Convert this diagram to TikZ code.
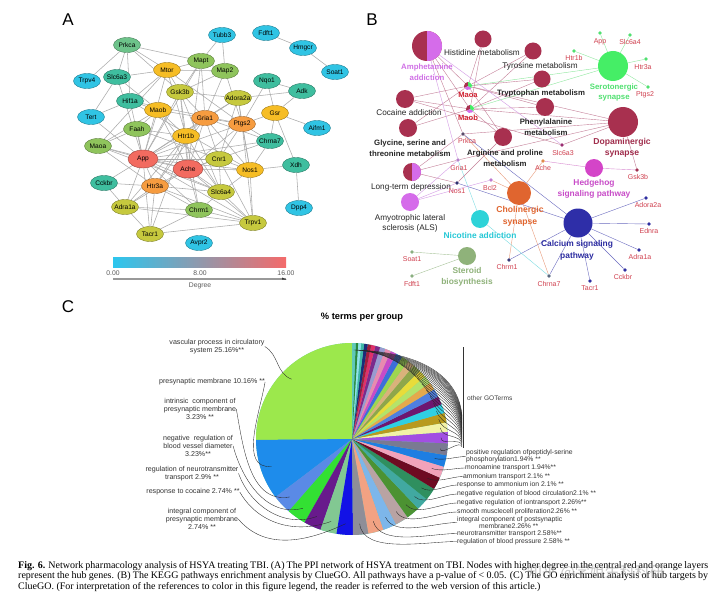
\documentclass[tikz,border=0pt]{standalone}
\usepackage{fontspec}
\setmainfont{Liberation Sans}
\newfontfamily\capfont{Liberation Serif}
\newfontfamily\cjkfont{Noto Sans CJK SC}
\usetikzlibrary{shapes.geometric,backgrounds}

\definecolor{cCy}{HTML}{30C4E4}
\definecolor{cTl}{HTML}{3FBE9F}
\definecolor{cLg}{HTML}{6DC38A}
\definecolor{cGr}{HTML}{8FC45C}
\definecolor{cOl}{HTML}{C6C93E}
\definecolor{cYe}{HTML}{F6BD25}
\definecolor{cOr}{HTML}{F69C40}
\definecolor{cRd}{HTML}{F26B60}
\definecolor{cbL}{HTML}{2CC6EE}
\definecolor{cbM}{HTML}{EEC42A}
\definecolor{cbR}{HTML}{F46A6A}

\definecolor{bDR}{HTML}{A8304F}
\definecolor{bVi}{HTML}{D56CEA}
\definecolor{bSG}{HTML}{45EE66}
\definecolor{bOr}{HTML}{E0652F}
\definecolor{bMg}{HTML}{D445C8}
\definecolor{bNv}{HTML}{2E2EA8}
\definecolor{bCy}{HTML}{2ED3D8}
\definecolor{bSt}{HTML}{8FB27A}
\definecolor{bGene}{HTML}{D0404F}
\definecolor{bEd}{HTML}{C47F98}
\definecolor{bEg}{HTML}{8FE89F}
\definecolor{bEo}{HTML}{E89A7A}
\definecolor{bEn}{HTML}{6A6AC0}
\definecolor{bEv}{HTML}{D49AE6}
\definecolor{bEc}{HTML}{7FDDE4}
\definecolor{bEm}{HTML}{D88AD0}
\definecolor{bEs}{HTML}{A8C49A}
\definecolor{dPrk}{HTML}{5A4A6A}
\definecolor{dGri}{HTML}{B57FC9}
\definecolor{dNos}{HTML}{2E2E70}
\definecolor{dBcl}{HTML}{C07ACF}
\definecolor{dAch}{HTML}{E08A4A}
\definecolor{dSlc}{HTML}{9A2E72}
\definecolor{dGsk}{HTML}{A0304F}
\definecolor{dChm}{HTML}{3A3A78}
\definecolor{dChn}{HTML}{5A6A80}
\definecolor{dCa}{HTML}{2E2EA0}
\definecolor{dSt}{HTML}{8AAF80}
\definecolor{dSer}{HTML}{50E070}
\definecolor{tAmph}{HTML}{D070E6}
\definecolor{tSer}{HTML}{50E070}
\definecolor{tDop}{HTML}{A02D4C}
\definecolor{tMao}{HTML}{D02030}
\definecolor{tNic}{HTML}{26C8D6}
\definecolor{tHh}{HTML}{C84CC8}
\definecolor{tCa}{HTML}{2B2BA0}
\definecolor{pLast}{HTML}{5FC8B8}

\newcommand\nt[1]{\makebox[0pt]{#1}}

\begin{document}
\begin{tikzpicture}[x=1pt,y=-1pt,
  gA/.style={ellipse, fill=#1, draw=#1!65!black, line width=0.4pt, minimum width=27pt, minimum height=15pt, inner sep=0pt, font=\fontsize{6.6}{7}\selectfont},
  gAbig/.style={gA=#1, minimum width=30pt, minimum height=18pt},
  eA/.style={draw=black!33, line width=0.55pt},
  bc/.style={circle, inner sep=0pt, minimum size=#1},
  gdot/.style={circle, inner sep=0pt, minimum size=3.6pt, fill=#1},
  glab/.style={font=\fontsize{7}{7}\selectfont, text=bGene, inner sep=0.5pt},
  plab/.style={font=\fontsize{8.2}{10}\selectfont, text=black!85, align=center, inner sep=0pt},
  pbold/.style={font=\bfseries\fontsize{7.8}{10.8}\selectfont, text=#1, align=center, inner sep=0pt},
  eB/.style={draw=#1, line width=0.4pt},
  lead/.style={draw=black!85, line width=0.35pt},
  lt/.style={font=\fontsize{7.1}{7.9}\selectfont, text=black!80, align=center, inner sep=0pt},
  rt/.style={font=\fontsize{6.8}{6.2}\selectfont, text=black!80, align=left, anchor=west, inner sep=0pt},
  letter/.style={font=\fontsize{17}{17}\selectfont, inner sep=0pt},
  capt/.style={font=\capfont\fontsize{10}{10}\selectfont, anchor=base west, inner sep=0pt},
]
\useasboundingbox (0,0) rectangle (720,599);
\begin{pgfonlayer}{background}
\fill[white] (0,0) rectangle (720,599);
\end{pgfonlayer}

% ---------------- Panel letters
\node[letter] (pA) at (68,20) {A};
\node[letter] (pB) at (372,20) {B};
\node[letter] (pC) at (68,307) {C};

% ---------------- Panel A
\node[gA=cLg] (aPrkca) at (127,45) {\nt{Prkca}};
\node[gA=cCy] (aTrpv4) at (87,81) {\nt{Trpv4}};
\node[gA=cTl] (aSlc6a3) at (117,77) {\nt{Slc6a3}};
\node[gA=cYe] (aMtor) at (167,70) {\nt{Mtor}};
\node[gA=cTl] (aHif1a) at (130,101) {\nt{Hif1a}};
\node[gA=cOl] (aGsk3b) at (180,92) {\nt{Gsk3b}};
\node[gA=cCy] (aTert) at (91,117) {\nt{Tert}};
\node[gA=cYe] (aMaob) at (158,110) {\nt{Maob}};
\node[gA=cGr] (aFaah) at (137,129) {\nt{Faah}};
\node[gA=cYe] (aHtr1b) at (186,136) {\nt{Htr1b}};
\node[gA=cGr] (aMaoa) at (98,146) {\nt{Maoa}};
\node[gA=cGr] (aMapt) at (201,61) {\nt{Mapt}};
\node[gA=cCy] (aTubb3) at (222,35) {\nt{Tubb3}};
\node[gA=cGr] (aMap2) at (225,71) {\nt{Map2}};
\node[gA=cCy] (aFdft1) at (266,33) {\nt{Fdft1}};
\node[gA=cCy] (aHmgcr) at (303,48) {\nt{Hmgcr}};
\node[gA=cCy] (aSoat1) at (335,72) {\nt{Soat1}};
\node[gA=cTl] (aNqo1) at (267,81) {\nt{Nqo1}};
\node[gA=cTl] (aAdk) at (302,91) {\nt{Adk}};
\node[gA=cOl] (aAdora2a) at (238,98) {\nt{Adora2a}};
\node[gA=cOr] (aGria1) at (205,118) {\nt{Gria1}};
\node[gA=cOr] (aPtgs2) at (242,124) {\nt{Ptgs2}};
\node[gA=cYe] (aGsr) at (275,113) {\nt{Gsr}};
\node[gA=cCy] (aAifm1) at (317,128) {\nt{Aifm1}};
\node[gA=cTl] (aChrna7) at (270,141) {\nt{Chrna7}};
\node[gAbig=cRd] (aApp) at (143,159) {\nt{App}};
\node[gAbig=cRd] (aAche) at (188,169) {\nt{Ache}};
\node[gA=cTl] (aCckbr) at (104,183) {\nt{Cckbr}};
\node[gA=cOr] (aHtr3a) at (155,186) {\nt{Htr3a}};
\node[gA=cOl] (aAdra1a) at (125,207) {\nt{Adra1a}};
\node[gA=cGr] (aChrm1) at (199,210) {\nt{Chrm1}};
\node[gA=cOl] (aTacr1) at (150,234) {\nt{Tacr1}};
\node[gA=cCy] (aAvpr2) at (199,243) {\nt{Avpr2}};
\node[gA=cOl] (aCnr1) at (219,159) {\nt{Cnr1}};
\node[gA=cYe] (aNos1) at (250,170) {\nt{Nos1}};
\node[gA=cTl] (aXdh) at (296,165) {\nt{Xdh}};
\node[gA=cOl] (aSlc6a4) at (221,192) {\nt{Slc6a4}};
\node[gA=cOl] (aTrpv1) at (253,223) {\nt{Trpv1}};
\node[gA=cCy] (aDpp4) at (299,208) {\nt{Dpp4}};

\begin{pgfonlayer}{background}
\foreach \u/\v in {Prkca/Trpv4, Prkca/Slc6a3, Prkca/Mtor, Prkca/Gsk3b, Prkca/Hif1a, Prkca/Mapt,
  Slc6a3/Tert, Slc6a3/Maob, Slc6a3/App, Slc6a3/Mtor,
  Mtor/Gsk3b, Mtor/Hif1a, Mtor/App, Mtor/Maoa, Mtor/Mapt, Mtor/Map2, Mtor/Ptgs2, Mtor/Htr1b,
  Hif1a/Tert, Hif1a/App, Hif1a/Maob, Hif1a/Ptgs2, Hif1a/Nos1, Tert/App,
  Gsk3b/Mapt, Gsk3b/App, Gsk3b/Htr1b, Gsk3b/Gria1, Gsk3b/Ache, Gsk3b/Slc6a4, Gsk3b/Adora2a, Gsk3b/Map2,
  Maob/Maoa, Maob/App, Maob/Faah, Maob/Htr1b, Maob/Slc6a4, Maob/Ache, Maob/Gria1,
  Faah/Maoa, Faah/App, Faah/Cnr1, Faah/Htr1b,
  Htr1b/App, Htr1b/Htr3a, Htr1b/Ache, Htr1b/Slc6a4, Htr1b/Gria1, Htr1b/Chrm1, Htr1b/Adra1a, Htr1b/Tacr1,
  Maoa/App, Maoa/Slc6a4, Maoa/Ache, Maoa/Htr3a,
  Mapt/Tubb3, Map2/Tubb3, Mapt/Map2, Mapt/App, Mapt/Gria1, Map2/Gria1, Map2/Ptgs2, Mapt/Ache,
  Fdft1/Hmgcr, Hmgcr/Soat1,
  Nqo1/Adk, Nqo1/Gsr, Adk/Gsr, Gsr/Aifm1, Gsr/Ptgs2, Gsr/Chrna7, Gsr/Xdh, Adk/Adora2a, Nqo1/Ptgs2,
  Adora2a/Ptgs2, Adora2a/Gria1, Adora2a/App, Adora2a/Nos1, Adora2a/Cnr1,
  Gria1/Ptgs2, Gria1/App, Gria1/Ache, Gria1/Cnr1, Gria1/Nos1, Gria1/Chrna7, Gria1/Htr3a,
  Ptgs2/App, Ptgs2/Nos1, Ptgs2/Cnr1, Ptgs2/Chrna7, Ptgs2/Trpv1, Ptgs2/Ache,
  Chrna7/Ache, Chrna7/App, Chrna7/Nos1, Xdh/Nos1, Xdh/Dpp4,
  App/Ache, App/Htr3a, App/Cckbr, App/Adra1a, App/Chrm1, App/Tacr1, App/Cnr1, App/Nos1, App/Slc6a4, App/Trpv1,
  Ache/Htr3a, Ache/Cnr1, Ache/Nos1, Ache/Slc6a4, Ache/Chrm1, Ache/Adra1a, Ache/Trpv1,
  Htr3a/Adra1a, Htr3a/Tacr1, Htr3a/Chrm1, Htr3a/Slc6a4, Htr3a/Trpv1,
  Cckbr/Adra1a, Cckbr/Htr3a, Adra1a/Tacr1, Adra1a/Chrm1, Adra1a/Trpv1,
  Tacr1/Trpv1, Tacr1/Chrm1, Cnr1/Nos1, Cnr1/Slc6a4, Cnr1/Trpv1,
  Nos1/Trpv1, Nos1/Slc6a4, Slc6a4/Chrm1, Slc6a4/Trpv1, Chrm1/Trpv1}
  \draw[eA] (a\u) -- (a\v);
\end{pgfonlayer}

% colour bar
\shade[left color=cbL, middle color=cbM, right color=cbR] (113,257) rectangle (286,267);
\node[font=\fontsize{6.8}{7}\selectfont, text=black!65] (cb0) at (113,273) {0.00};
\node[font=\fontsize{6.8}{7}\selectfont, text=black!65] (cb8) at (200,273) {8.00};
\node[font=\fontsize{6.8}{7}\selectfont, text=black!65] (cb16) at (286,273) {16.00};
\draw[black!40, line width=1.2pt] (113,279) -- (286,279);
\fill[black!80] (282,277.5) -- (286.5,279.6) -- (282,279.6) -- cycle;
\node[font=\fontsize{6.8}{7}\selectfont, text=black!65] (cbD) at (200,286) {Degree};

% ---------------- Panel B
\node[bc=30pt, fill=bDR] (bAmph) at (427,46) {};
\begin{scope}
\clip (427,30) rectangle (444,62);
\fill[bVi] (bAmph.center) circle[radius=15pt];
\end{scope}
\node[bc=17pt, fill=bDR] (bHis) at (483,39) {};
\node[bc=17pt, fill=bDR] (bTyr) at (533,51) {};
\node[bc=17pt, fill=bDR] (bTrp) at (542,79) {};
\node[bc=18pt, fill=bDR] (bPhe) at (545,107) {};
\node[bc=30pt, fill=bSG] (bSer) at (613,66) {};
\node[bc=30pt, fill=bDR] (bDop) at (623,122) {};
\node[bc=18pt, fill=bDR] (bCoc) at (405,99) {};
\node[bc=18pt, fill=bDR] (bGly) at (408,128) {};
\node[bc=18pt, fill=bDR] (bArg) at (503,137) {};
\node[bc=18pt, fill=bDR] (bLtd) at (412,172) {};
\begin{scope}
\clip (412,162) rectangle (422,182);
\fill[bVi] (bLtd.center) circle[radius=9pt];
\end{scope}
\node[bc=24pt, fill=bOr] (bChol) at (519,193) {};
\node[bc=18pt, fill=bVi] (bALS) at (410,202) {};
\node[bc=18pt, fill=bCy] (bNic) at (480,219) {};
\node[bc=18pt, fill=bSt] (bSte) at (467,256) {};
\node[bc=18pt, fill=bMg] (bHh) at (594,168) {};
\node[bc=29pt, fill=bNv] (bCa) at (578,223) {};

\node[bc=8pt] (bMaoa) at (468,86) {};
\node[bc=8pt] (bMaob) at (470,109) {};
\foreach \n in {bMaoa,bMaob}{
  \fill[bDR] (\n.center) -- ++(90:4pt) arc[start angle=90, end angle=210, radius=4pt] -- cycle;
  \fill[bVi] (\n.center) -- ++(210:4pt) arc[start angle=210, end angle=330, radius=4pt] -- cycle;
  \fill[bSG] (\n.center) -- ++(330:4pt) arc[start angle=330, end angle=450, radius=4pt] -- cycle;
}

\node[gdot=dPrk] (bPrkca) at (463,134) {};
\node[gdot=dGri] (bGria1) at (458,160) {};
\node[gdot=dNos] (bNos1) at (457,183) {};
\node[gdot=dBcl] (bBcl2) at (491,180) {};
\node[gdot=dAch] (bAche) at (543,161) {};
\node[gdot=dSlc] (bSlc6a3) at (562,145) {};
\node[gdot=dGsk] (bGsk3b) at (637,170) {};
\node[gdot=dChm] (bChrm1) at (509,260) {};
\node[gdot=dChn] (bChrna7) at (549,276) {};
\node[gdot=dCa] (bAdora) at (646,198) {};
\node[gdot=dCa] (bEdnra) at (649,224) {};
\node[gdot=dCa] (bAdra) at (639,250) {};
\node[gdot=dCa] (bCckbr) at (625,270) {};
\node[gdot=dCa] (bTacr1) at (590,281) {};
\node[gdot=dSt] (bSoat1) at (412,252) {};
\node[gdot=dSt] (bFdft1) at (412,276) {};
\node[gdot=dSer] (bApp) at (600,33) {};
\node[gdot=dSer] (bSlc6a4) at (630,35) {};
\node[gdot=dSer] (bHtr1b) at (574,51) {};
\node[gdot=dSer] (bHtr3a) at (646,59) {};
\node[gdot=dSer] (bPtgs2) at (648,87) {};

\begin{pgfonlayer}{background}
\foreach \u/\v/\c in {Maoa/Amph/bEd, Maoa/His/bEd, Maoa/Tyr/bEd, Maoa/Trp/bEd, Maoa/Phe/bEd, Maoa/Coc/bEd, Maoa/Gly/bEd, Maoa/Arg/bEd, Maoa/Dop/bEd, Maoa/Ser/bEg,
  Maob/Amph/bEd, Maob/His/bEd, Maob/Tyr/bEd, Maob/Trp/bEd, Maob/Phe/bEd, Maob/Coc/bEd, Maob/Gly/bEd, Maob/Arg/bEd, Maob/Dop/bEd, Maob/Ser/bEg,
  Prkca/Amph/bEd, Prkca/Ltd/bEd, Prkca/Dop/bEd, Prkca/Chol/bEo, Prkca/Ca/bEn,
  Gria1/Amph/bEv, Gria1/Ltd/bEd, Gria1/Dop/bEd, Gria1/ALS/bEv, Gria1/Nic/bEc,
  Nos1/Ltd/bEd, Nos1/Arg/bEd, Nos1/ALS/bEv, Nos1/Ca/bEn,
  Bcl2/ALS/bEv, Bcl2/Chol/bEo, Ache/Chol/bEo, Ache/Hh/bEm,
  Slc6a3/Dop/bEd, Slc6a3/Amph/bEv, Slc6a3/Coc/bEd, Gsk3b/Dop/bEd, Gsk3b/Hh/bEm,
  Chrm1/Chol/bEo, Chrm1/Ca/bEn, Chrna7/Chol/bEo, Chrna7/Nic/bEc, Chrna7/Ca/bEn,
  Ca/Adora/bEn, Ca/Ednra/bEn, Ca/Adra/bEn, Ca/Cckbr/bEn, Ca/Tacr1/bEn,
  Ste/Soat1/bEs, Ste/Fdft1/bEs,
  Ser/App/bEg, Ser/Slc6a4/bEg, Ser/Htr1b/bEg, Ser/Htr3a/bEg, Ser/Ptgs2/bEg}
  \draw[eB=\c] (b\u) -- (b\v);
\end{pgfonlayer}

% panel B labels
\node[pbold=tAmph] (lAmph) at (427,72.5) {Amphetamine\\addiction};
\node[plab] (lHis) at (482,53) {Histidine metabolism};
\node[plab] (lTyr) at (540,66) {Tyrosine metabolism};
\node[pbold=black!85] (lTrp) at (541,93) {Tryptophan metabolism};
\node[pbold=black!85] (lPhe) at (546,127) {Phenylalanine\\metabolism};
\node[pbold=tSer] (lSer) at (614,92.5) {Serotonergic\\synapse};
\node[pbold=tDop, font=\bfseries\fontsize{8.6}{11.5}\selectfont] (lDop) at (622,148) {Dopaminergic\\synapse};
\node[font=\bfseries\fontsize{7.6}{8}\selectfont, text=tMao] (lMaoa) at (468,94.5) {Maoa};
\node[font=\bfseries\fontsize{7.6}{8}\selectfont, text=tMao] (lMaob) at (468,118) {Maob};
\node[plab] (lCoc) at (409,113) {Cocaine addiction};
\node[pbold=black!85] (lGly) at (410,148.5) {Glycine, serine and\\threonine metabolism};
\node[pbold=black!85] (lArg) at (505,158) {Arginine and proline\\metabolism};
\node[plab] (lLtd) at (411,187) {Long-term depression};
\node[plab] (lALS) at (410,223.5) {Amyotrophic lateral\\sclerosis (ALS)};
\node[pbold=bOr, font=\bfseries\fontsize{8.6}{11.5}\selectfont] (lChol) at (520,216.5) {Cholinergic\\synapse};
\node[pbold=tNic, font=\bfseries\fontsize{8.4}{9}\selectfont] (lNic) at (480,235) {Nicotine addiction};
\node[pbold=bSt, font=\bfseries\fontsize{8.4}{11.5}\selectfont] (lSte) at (467,277) {Steroid\\biosynthesis};
\node[pbold=tHh, font=\bfseries\fontsize{8.4}{11}\selectfont] (lHh) at (594,188.5) {Hedgehog\\signaling pathway};
\node[pbold=tCa, font=\bfseries\fontsize{8.4}{12}\selectfont] (lCa) at (577,250) {Calcium signaling\\pathway};
\node[glab] (lPrkca) at (467,141) {Prkca};
\node[glab] (lGria1) at (459,168) {Gria1};
\node[glab] (lNos1) at (457,191.5) {Nos1};
\node[glab] (lBcl2) at (490,188) {Bcl2};
\node[glab] (lAche) at (543,168) {Ache};
\node[glab] (lSlc6a3) at (563,153) {Slc6a3};
\node[glab] (lGsk3b) at (638,177) {Gsk3b};
\node[glab] (lChrm1) at (507,267) {Chrm1};
\node[glab] (lChrna7) at (549,283.5) {Chrna7};
\node[glab] (lAdora) at (648,205) {Adora2a};
\node[glab] (lEdnra) at (649,231) {Ednra};
\node[glab] (lAdra) at (640,257) {Adra1a};
\node[glab] (lCckbr) at (623,277) {Cckbr};
\node[glab] (lTacr1) at (590,288) {Tacr1};
\node[glab] (lSoat1) at (412,259) {Soat1};
\node[glab] (lFdft1) at (412,283.5) {Fdft1};
\node[glab] (lApp) at (600,41.5) {App};
\node[glab] (lSlc6a4) at (630,42) {Slc6a4};
\node[glab] (lHtr1b) at (574,58) {Htr1b};
\node[glab] (lHtr3a) at (643,67) {Htr3a};
\node[glab] (lPtgs2) at (645,95) {Ptgs2};

% ---------------- Panel C
\node[font=\bfseries\fontsize{9.3}{10}\selectfont] (ctitle) at (362,317) {\% terms per group};
\coordinate (pc) at (352,439);

\node[lt] (lVas) at (217,346.5) {vascular process in circulatory\\system 25.16\%**};
\node[lt] (lPre) at (212,382) {presynaptic membrane 10.16\% **};
\node[lt] (lInt) at (200,409) {intrinsic\ \ component of\\presynaptic membrane\\3.23\% **};
\node[lt] (lNeg) at (198,446) {negative\ \ regulation of\\blood vessel diameter\\3.23\%**};
\node[lt] (lReg) at (192,473.5) {regulation of neurotransmitter\\transport 2.9\% **};
\node[lt] (lCoc2) at (193,492) {response to cocaine 2.74\% **};
\node[lt] (lIntg) at (202,519) {integral component of\\presynaptic membrane\\2.74\% **};

\node[rt] (rPos) at (466,456.5) {positive regulation ofpeptidyl-serine\\phosphorylation1.94\% **};
\node[rt] (rMo) at (465,468) {monoamine transport 1.94\%**};
\node[rt] (rAT) at (463,476.5) {ammonium transport 2.1\% **};
\node[rt] (rAm) at (457,485) {response to ammonium ion 2.1\% **};
\node[rt] (rBC) at (457,494) {negative regulation of blood circulation2.1\% **};
\node[rt] (rIon) at (457,503) {negative regulation of iontransport 2.26\%**};
\node[rt] (rSM) at (457,512) {smooth musclecell proliferation2.26\% **};
\node[rt] (rIP) at (457,522.5) {integral component of postsynaptic\\\hspace*{22pt}membrane2.26\% **};
\node[rt] (rNT) at (457,533.5) {neurotransmitter transport 2.58\%**};
\node[rt] (rBP) at (457,541.5) {regulation of blood pressure 2.58\% **};
\node[font=\fontsize{6.6}{7}\selectfont, text=black!75, anchor=west, inner sep=0pt] (lOther) at (467,398) {other GOTerms};

\begin{scope}[shift={(pc)}, x=1pt, y=1pt]
  \fill[pLast] (0,0) circle[radius=96];
  \def\angA{90}
  \foreach \p/\c in {25.16/9CE84C, 10.16/1E8CEB, 3.23/5A8AE6, 3.23/33E033, 2.9/681A8C, 2.74/82C892, 2.74/1212E6,
     2.58/8E8E98, 2.58/F2A283, 2.26/7DB6EA, 2.26/B9A3A3, 2.26/4C9232, 2.1/41A9A1, 2.1/2F8F5F, 2.1/6E0A22, 1.94/F2A2BA, 1.94/1E7EE2,
     2.0/7A7A92, 1.9/A24FE2, 1.6/F2F2A6, 1.6/B89A1E, 1.5/2FCFE3, 1.4/6E1670, 1.4/4F7FE0, 1.3/E5A94C, 1.3/B4E36A, 1.3/E8DC3A,
     1.3/8FA64A, 1.2/D9B27A, 1.2/9ED64F, 1.1/3D6FD8, 1.0/C84BC8, 1.0/E88AB0, 0.9/9A9AD0, 0.8/7C2A8C, 0.7/E0306A, 0.6/A0203C,
     0.6/1C2C78, 0.5/3FB7A6, 0.5/8FE3E8, 0.4/2A8A3A, 0.62/5FC8B8}{
    \pgfmathsetmacro\angB{\angA+3.6*\p}
    \definecolor{slc}{HTML}{\c}
    \fill[slc] (0,0) -- (\angA:96) arc[start angle=\angA, end angle=\angB, radius=96] -- cycle;
    \xdef\angA{\angB}
  }
  % left leaders
  \def\angA{90}
  \foreach \p/\lab/\o/\i in {25.16/lVas/-30/160, 10.16/lPre/-100/185, 3.23/lInt/-80/190, 3.23/lNeg/-75/195, 2.9/lReg/-70/200, 2.74/lCoc2/-60/200, 2.74/lIntg/-50/205}{
    \pgfmathsetmacro\angB{\angA+3.6*\p}
    \pgfmathsetmacro\angM{(\angA+\angB)/2}
    \draw[lead] (\lab.east) to[out=\o, in=\i] (\angM:85);
    \xdef\angA{\angB}
  }
  % right labelled leaders
  \def\angA{270.576}
  \foreach \p/\lab in {2.58/rBP, 2.58/rNT, 2.26/rIP, 2.26/rSM, 2.26/rIon, 2.1/rBC, 2.1/rAm, 2.1/rAT, 1.94/rMo, 1.94/rPos}{
    \pgfmathsetmacro\angB{\angA+3.6*\p}
    \pgfmathsetmacro\angM{(\angA+\angB)/2}
    \draw[lead] (\angM:85) to[out=\angM, in=180, looseness=0.8] (\lab.west);
    \xdef\angA{\angB}
  }
  % other GO terms leaders
  \def\angA{350.208}
  \foreach \p [count=\k] in {2.0,1.9,1.6,1.6,1.5,1.4,1.4,1.3,1.3,1.3,1.3,1.2,1.2,1.1,1.0,1.0,0.9,0.8,0.7,0.6,0.6,0.5,0.5,0.4,0.62}{
    \pgfmathsetmacro\angB{\angA+3.6*\p}
    \pgfmathsetmacro\angM{(\angA+\angB)/2}
    \pgfmathsetmacro\ye{-8+(\k-1)*1.3}
    \pgfmathsetmacro\ot{\angM-90}
    \draw[lead] (\angM:89) to[out=\ot, in=95] (110,\ye);
    \xdef\angA{\angB}
  }
  \draw[black!80, line width=0.6pt] (111,92) -- (111,-9);
\end{scope}

% ---------------- Caption
\node[capt] (cap1) at (18,568) {\makebox[690pt][s]{\textbf{Fig. 6.} Network pharmacology analysis of HSYA treating TBI. (A) The PPI network of HSYA treatment on TBI. Nodes with higher degree in the central red and orange layers}};
\node[capt] (cap2) at (18,578.5) {\makebox[690pt][s]{represent the hub genes. (B) The KEGG pathways enrichment analysis by ClueGO. All pathways have a p-value of < 0.05. (C) The GO enrichment analysis of hub targets by}};
\node[capt] (cap3) at (18,589) {ClueGO. (For interpretation of the references to color in this figure legend, the reader is referred to the web version of this article.)};
\node[font=\cjkfont\fontsize{15}{15}\selectfont, text=black!45, opacity=0.5] (wm) at (596,572) {知乎 @学姐生科科研};
\end{tikzpicture}
\end{document}
